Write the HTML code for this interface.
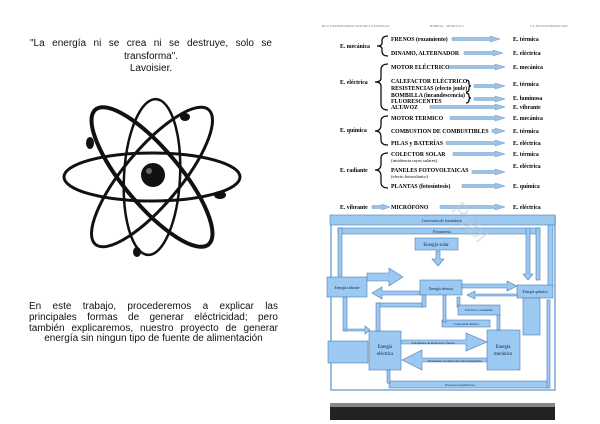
<!DOCTYPE html>
<html><head><meta charset="utf-8"><style>
html,body{margin:0;padding:0;background:#fff;}
body{width:600px;height:424px;position:relative;overflow:hidden;font-family:"Liberation Sans",sans-serif;}
.t{position:absolute;color:#111;}
.j{display:block;text-align:justify;text-align-last:justify;white-space:nowrap;}
.c{display:block;text-align:center;white-space:nowrap;}
svg{position:absolute;left:0;top:0;}
</style></head><body>
<div class="t" style="left:30px;top:38px;width:242px;font-size:10px;line-height:12.5px;"><span class="j" style="white-space:normal">"La energía ni se crea ni se destruye, solo se</span><span class="c">transforma".</span><span class="c">Lavoisier.</span></div>
<div class="t" style="left:29px;top:302px;width:249px;font-size:10px;line-height:10.8px;"><span class="j" style="white-space:normal">En este trabajo, procederemos a explicar las</span><span class="j" style="white-space:normal">principales formas de generar eléctricidad; pero</span><span class="j" style="white-space:normal">también explicaremos, nuestro proyecto de generar</span><span class="c">energía sin ningun tipo de fuente de alimentación</span></div>
<svg width="600" height="424" viewBox="0 0 600 424">
<g fill="none" stroke="#111" stroke-linecap="round">
<ellipse cx="152" cy="177" rx="88" ry="24" stroke-width="3"/>
<ellipse cx="152" cy="177" rx="88" ry="28" transform="rotate(50 152 177)" stroke-width="4"/>
<ellipse cx="152" cy="177" rx="88" ry="28" transform="rotate(-50 152 177)" stroke-width="3"/>
<ellipse cx="152" cy="177" rx="28" ry="78" transform="rotate(3 152 177)" stroke-width="2.5"/>
</g>
<circle cx="153" cy="175" r="12" fill="#111"/>
<circle cx="149" cy="171" r="3" fill="#666"/>
<g fill="#111"><ellipse cx="90" cy="143" rx="4" ry="6"/><ellipse cx="185" cy="117" rx="5" ry="4"/><ellipse cx="220" cy="195" rx="6" ry="4"/><ellipse cx="137" cy="252" rx="4" ry="5"/></g>

<g font-family="Liberation Serif,serif" font-size="5.8" fill="#000" font-weight="bold">
<text x="322" y="27" font-size="3.5" font-weight="normal" fill="#777">BLA TRANSFORMACION DE LA ENERGIA</text>
<text x="430" y="27" font-size="3.5" font-weight="normal" fill="#777">BOBINA - MODULO 1</text>
<text x="530" y="27" font-size="3.5" font-weight="normal" fill="#777">LA TRANSFORMACION</text>
<text x="340" y="48">E. mecánica</text>
<text x="391" y="41">FRENOS (rozamiento)</text>
<text x="391" y="55">DINAMO, ALTERNADOR</text>
<text x="340" y="84">E. eléctrica</text>
<text x="391" y="69">MOTOR ELÉCTRICO</text>
<text x="391" y="83">CALEFACTOR ELÉCTRICO</text>
<text x="391" y="90">RESISTENCIAS (efecto joule)</text>
<text x="391" y="97">BOMBILLA (incandescencia)</text>
<text x="391" y="103">FLUORESCENTES</text>
<text x="391" y="109">ALTAVOZ</text>
<text x="340" y="132">E. química</text>
<text x="391" y="120">MOTOR TERMICO</text>
<text x="391" y="133">COMBUSTION DE COMBUSTIBLES</text>
<text x="391" y="145">PILAS y BATERÍAS</text>
<text x="340" y="172">E. radiante</text>
<text x="391" y="156">COLECTOR SOLAR</text>
<text x="391" y="162" font-weight="normal" font-size="4.5">(incidencia rayos solares)</text>
<text x="391" y="172">PANELES FOTOVOLTAICAS</text>
<text x="391" y="178" font-weight="normal" font-size="4.5">(efecto fotovoltaico)</text>
<text x="391" y="188">PLANTAS (fotosíntesis)</text>
<text x="340" y="209">E. vibrante</text>
<text x="391" y="209">MICRÓFONO</text>
<text x="513" y="41">E. térmica</text>
<text x="513" y="55">E. eléctrica</text>
<text x="513" y="69">E. mecánica</text>
<text x="513" y="86">E. térmica</text>
<text x="513" y="100">E. luminosa</text>
<text x="513" y="109">E. vibrante</text>
<text x="513" y="120">E. mecánica</text>
<text x="513" y="133">E. térmica</text>
<text x="513" y="145">E. eléctrica</text>
<text x="513" y="156">E. térmica</text>
<text x="513" y="168">E. eléctrica</text>
<text x="513" y="188">E. química</text>
<text x="513" y="209">E. eléctrica</text>
</g>
<g fill="none" stroke="#111" stroke-width="1.3">
<path d="M388 36 q-6 0 -6 5 v2 q0 3 -5 3 q5 0 5 3 v2 q0 5 6 5"/>
<path d="M388 64 q-7 0 -7 6 v8 q0 4 -6 4 q6 0 6 4 v18 q0 6 7 6"/>
<path d="M388 116 q-7 0 -7 5 v4 q0 6 -6 6 q6 0 6 6 v3 q0 5 7 5"/>
<path d="M388 153 q-7 0 -7 5 v6 q0 6 -6 6 q6 0 6 6 v6 q0 6 7 6"/>
<path d="M466 80 q3 0 3 3 v1 q0 2 2 2 q-2 0 -2 2 v1 q0 3 -3 3"/>
<path d="M466 93 q3 0 3 3 q0 2 2 2 q-2 0 -2 2 q0 3 -3 3"/>
</g>
<g fill="#9cc3e6" stroke="#6f9fcc" stroke-width="0.5">
<path d="M452 37.5h38v-1.5l10 3l-10 3v-1.5h-38z"/>
<path d="M464 51.5h29v-1.5l10 3l-10 3v-1.5h-29z"/>
<path d="M450 65.5h45v-1.5l10 3l-10 3v-1.5h-45z"/>
<path d="M474 84.5h21v-1.5l10 3l-10 3v-1.5h-21z"/>
<path d="M474 97.5h21v-1.5l10 3l-10 3v-1.5h-21z"/>
<path d="M430 105.5h65v-1.5l10 3l-10 3v-1.5h-65z"/>
<path d="M450 116.5h45v-1.5l10 3l-10 3v-1.5h-45z"/>
<path d="M492 129.5h3v-1.5l10 3l-10 3v-1.5h-3z"/>
<path d="M446 141.5h49v-1.5l10 3l-10 3v-1.5h-49z"/>
<path d="M453 152.5h42v-1.5l10 3l-10 3v-1.5h-42z"/>
<path d="M472 170.5h23v-1.5l10 3l-10 3v-1.5h-23z"/>
<path d="M462 184.5h33v-1.5l10 3l-10 3v-1.5h-33z"/>
<path d="M372 205.5h10v-1.5l8 3l-8 3v-1.5h-10z"/>
<path d="M440 205.5h55v-1.5l10 3l-10 3v-1.5h-55z"/>
</g>

<rect x="331" y="216" width="224" height="174" fill="#fff" stroke="#7aa9da" stroke-width="1.5"/>
<g fill="#9cc9f2" stroke="#4f7fb0" stroke-width="0.6">
<rect x="330" y="215" width="225" height="10"/>
<rect x="338" y="228" width="202" height="6"/>
<rect x="338" y="228" width="4" height="50"/>
<rect x="536" y="228" width="4" height="52"/>
<rect x="548" y="225" width="5" height="62"/>
<rect x="415" y="238" width="43" height="12"/>
<path d="M526 228v46h-3l5 6l5-6h-3v-46z" />
<path d="M436 251v8h-4l6 7l6-7h-4v-8z"/>
<rect x="327" y="277" width="40" height="20"/>
<rect x="420" y="280" width="42" height="15"/>
<rect x="517" y="285" width="36" height="13"/>
<rect x="523" y="298" width="17" height="37"/>
<rect x="369" y="331" width="32" height="39"/>
<rect x="487" y="330" width="33" height="40"/>
<rect x="328" y="341" width="40" height="22"/>
<path d="M367 273h22v-5l14 9l-14 9v-5h-22z"/>
<path d="M420 291h-38v-4l-10 6l10 6v-4h38z"/>
<path d="M462 284h45v-3l10 5l-10 5v-3h-45z"/>
<path d="M517 294h-42v-3l-8 4l8 4v-3h42z"/>
<rect x="377" y="303" width="47" height="4"/>
<rect x="376" y="303" width="4" height="28"/>
<rect x="422" y="295" width="4" height="12"/>
<rect x="457" y="297" width="3" height="10"/>
<rect x="458" y="305" width="42" height="10"/>
<rect x="497" y="315" width="3" height="15"/>
<rect x="442" y="320" width="48" height="7"/>
<rect x="443" y="295" width="3" height="27"/>
<rect x="343" y="297" width="4" height="34"/>
<path d="M345 329h20v-3l5 4l-5 4v-3h-20z"/>
<path d="M401 340h65v-7l21 9l-21 9v-7h-65z"/>
<path d="M487 358h-65v-8l-20 10l20 10v-8h65z"/>
<rect x="389" y="381" width="160" height="7"/>
<rect x="547" y="300" width="3" height="88"/>
<rect x="387" y="370" width="3" height="13"/>
</g>
<g font-family="Liberation Serif,serif" font-size="3.8" fill="#123">
<text x="442" y="222" text-anchor="middle">Conversion de fotosíntesis</text>
<text x="442" y="233" text-anchor="middle">Fotosíntesis</text>
<text x="436" y="246" text-anchor="middle" font-size="4.8">Energía solar</text>
<text x="347" y="289" text-anchor="middle">Energía radiante</text>
<text x="441" y="290" text-anchor="middle">Energía térmica</text>
<text x="535" y="293" text-anchor="middle">Energía química</text>
<text x="385" y="348" text-anchor="middle" font-size="4.8">Energía</text>
<text x="385" y="355" text-anchor="middle" font-size="4.8">eléctrica</text>
<text x="503" y="348" text-anchor="middle" font-size="4.8">Energía</text>
<text x="503" y="355" text-anchor="middle" font-size="4.8">mecánica</text>
<text x="433" y="344" text-anchor="middle" font-size="3.2">Fenómenos de inducción y fuerza</text>
<text x="455" y="362" text-anchor="middle" font-size="3.2">Fenómenos de inducción electromagnética</text>
<text x="460" y="386" text-anchor="middle" font-size="3.2">Procesos fotoeléctricos</text>
<text x="479" y="311" text-anchor="middle" font-size="3.2">Fricción y rozamiento</text>
<text x="466" y="325" text-anchor="middle" font-size="3.2">Conversión térmica</text>
</g>
<rect x="330" y="405" width="225" height="15" fill="#222"/>
<rect x="330" y="403" width="225" height="4" fill="#888"/>
<text x="450" y="210" font-family="Liberation Sans,sans-serif" font-size="22" fill="#ccc" opacity="0.5" transform="rotate(50 450 210)">Pabl</text>
</svg>
</body></html>
